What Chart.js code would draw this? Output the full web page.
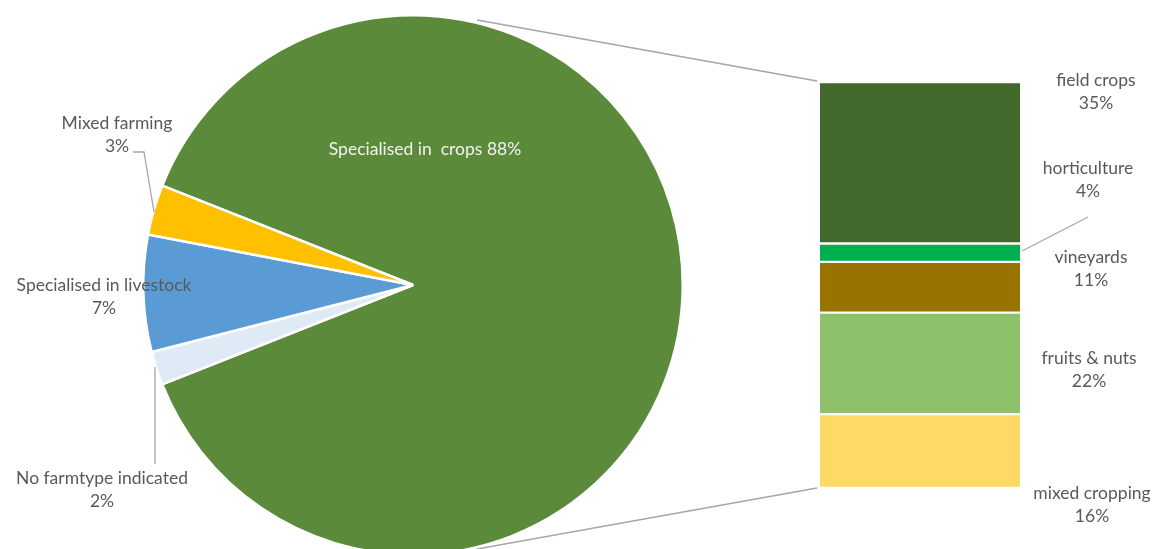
<!DOCTYPE html>
<html>
<head>
<meta charset="utf-8">
<script src="https://cdn.jsdelivr.net/npm/chart.js@4.4.1/dist/chart.umd.min.js"></script>
<style>
  html, body { margin: 0; padding: 0; background: #ffffff; overflow: hidden; width: 1154px; height: 549px; }
  #wrap { position: relative; width: 1154px; height: 549px; overflow: hidden; }
  canvas { position: absolute; left: 0; top: 0; }
</style>
</head>
<body>
<div id="wrap">
  <canvas id="pie" width="1154" height="570"></canvas>
  <canvas id="bar" width="1154" height="549"></canvas>
</div>
<script>
// ---- data ----
const pieCategories = ["Specialised in  crops", "No farmtype indicated", "Specialised in livestock", "Mixed farming"];
const pieValues = [88, 2, 7, 3];
const pieColors = ["#5B8A3A", "#DEEBF7", "#5B9BD5", "#FFC000"];

const barCategories = ["field crops", "horticulture", "vineyards", "fruits & nuts", "mixed cropping"];
const barValues = [35, 4, 11, 22, 16];
const barColors = ["#43682B", "#00B050", "#997300", "#8DC26A", "#FFD966"];

const FONT = "Lato, 'Open Sans', sans-serif";
const FONT_SIZE = 17.5;
const LABEL_COLOR = "#595959";
const LINE_COLOR = "#A6A6A6";

// total share of the small slices, used to centre them around the left horizontal
const smallShare = pieValues.slice(1).reduce((a, b) => a + b, 0);
const pieRotation = 270 + smallShare / 100 * 360 / 2;

// ---- pie ----
const pieLabelPlugin = {
  id: 'pieLabels',
  afterDraw(chart) {
    const ctx = chart.ctx;
    ctx.save();
    ctx.textAlign = 'center';
    ctx.textBaseline = 'middle';
    // leader lines
    ctx.strokeStyle = LINE_COLOR;
    ctx.lineWidth = 1.3;
    ctx.beginPath();
    ctx.moveTo(133, 152); ctx.lineTo(144, 152); ctx.lineTo(154, 212);
    ctx.stroke();
    ctx.beginPath();
    ctx.moveTo(155, 367); ctx.lineTo(155, 464);
    ctx.stroke();

    ctx.font = FONT_SIZE + "px " + FONT;
    // crops (inside)
    ctx.fillStyle = "#F2F2F2";
    ctx.fillText(pieCategories[0] + " " + pieValues[0] + "%", 425, 149);
    ctx.fillStyle = LABEL_COLOR;
    const pos = { 1: [102, 478], 2: [104, 285], 3: [117, 123] };
    [1, 2, 3].forEach(i => {
      const [x, y] = pos[i];
      ctx.fillText(pieCategories[i], x, y);
      ctx.fillText(pieValues[i] + "%", x, y + 23);
    });
    ctx.restore();
  }
};

new Chart(document.getElementById('pie'), {
  type: 'pie',
  data: {
    labels: pieCategories,
    datasets: [{
      data: pieValues,
      backgroundColor: pieColors,
      borderColor: "#ffffff",
      borderWidth: 2.5
    }]
  },
  options: {
    responsive: false,
    animation: false,
    rotation: pieRotation,
    layout: { padding: { left: 142, right: 470, top: 14, bottom: 14 } },
    plugins: { legend: { display: false }, tooltip: { enabled: false } }
  },
  plugins: [pieLabelPlugin]
});

// ---- bar ----
const barLabelPlugin = {
  id: 'barLabels',
  afterDraw(chart) {
    const ctx = chart.ctx;
    ctx.save();
    ctx.strokeStyle = LINE_COLOR;
    ctx.lineWidth = 1.5;
    // connectors pie -> bar
    ctx.beginPath();
    ctx.moveTo(477, 20); ctx.lineTo(817, 81);
    ctx.moveTo(477, 549); ctx.lineTo(817, 488);
    ctx.stroke();
    // horticulture leader
    ctx.lineWidth = 1.3;
    ctx.beginPath();
    ctx.moveTo(1022, 251); ctx.lineTo(1088, 217);
    ctx.stroke();

    ctx.font = FONT_SIZE + "px " + FONT;
    ctx.fillStyle = LABEL_COLOR;
    ctx.textAlign = 'center';
    ctx.textBaseline = 'middle';
    const pos = [[1096, 80], [1088, 168], [1091, 257], [1089, 358], [1092, 493]];
    barCategories.forEach((c, i) => {
      ctx.fillText(c, pos[i][0], pos[i][1]);
      ctx.fillText(barValues[i] + "%", pos[i][0], pos[i][1] + 23);
    });
    ctx.restore();
  }
};

new Chart(document.getElementById('bar'), {
  type: 'bar',
  data: {
    labels: ["crops"],
    datasets: barCategories.map((c, i) => ({
      label: c,
      data: [barValues[i]],
      backgroundColor: barColors[i],
      borderColor: "#ffffff",
      borderWidth: { top: 1.5, bottom: 1.5, left: 0, right: 0 },
      borderSkipped: false,
      barPercentage: 1,
      categoryPercentage: 1
    }))
  },
  options: {
    responsive: false,
    animation: false,
    layout: { padding: { left: 820, right: 134, top: 82, bottom: 61 } },
    scales: {
      x: { stacked: true, display: false },
      y: { stacked: true, display: false, reverse: true, min: 0, max: barValues.reduce((a, b) => a + b, 0) }
    },
    plugins: { legend: { display: false }, tooltip: { enabled: false } }
  },
  plugins: [barLabelPlugin]
});
</script>
</body>
</html>
